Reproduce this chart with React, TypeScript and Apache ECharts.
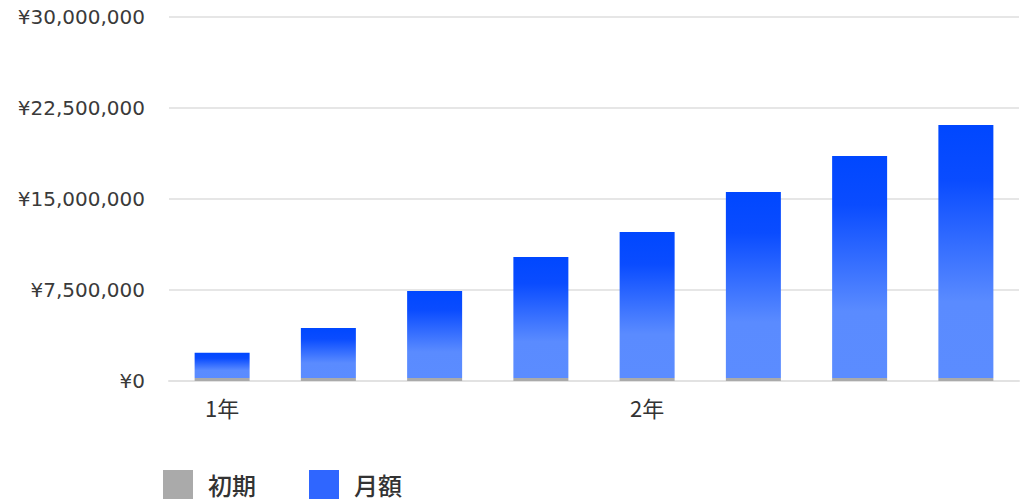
import React, { useEffect, useRef } from "react";
import * as echarts from "echarts";

const xLabels = ["1年", "", "", "", "2年", "", "", ""];
const initialCost = [250000, 250000, 250000, 250000, 250000, 250000, 250000, 250000];
const monthlyCost = [2080000, 4120000, 7170000, 9970000, 12030000, 15330000, 18290000, 20850000];
const yMax = 30000000;
const yStep = 7500000;
const legendNames = ["初期", "月額"];

export default function App() {
  const ref = useRef<HTMLDivElement>(null);
  useEffect(() => {
    document.body.style.margin = "0";
    if (!ref.current) return;
    const chart = echarts.init(ref.current, undefined, { renderer: "svg" });
    const labelFont = "'DejaVu Sans', 'Noto Sans', sans-serif";
    const cjkFont = "'Noto Sans CJK JP', 'Noto Sans', sans-serif";
    chart.setOption({
      animation: false,
      grid: { left: 169, right: 5, top: 17, bottom: 122, containLabel: false },
      legend: {
        left: 163,
        bottom: 4,
        padding: 0,
        itemWidth: 30,
        itemHeight: 29,
        itemGap: 53,
        icon: "rect",
        textStyle: { fontSize: 24, color: "#333", fontFamily: cjkFont, fontWeight: 500, padding: [0, 0, 0, 10] },
        data: [
          { name: legendNames[0], itemStyle: { color: "#aaaaaa" } },
          { name: legendNames[1], itemStyle: { color: "#2f66ff" } },
        ],
      },
      xAxis: {
        type: "category",
        data: xLabels,
        axisTick: { show: false },
        axisLine: { lineStyle: { color: "#e2e2e2", width: 2 } },
        axisLabel: { interval: 0, margin: 15, fontSize: 22, color: "#333", fontFamily: cjkFont },
      },
      yAxis: {
        type: "value",
        min: 0,
        max: yMax,
        interval: yStep,
        axisLine: { show: false },
        axisTick: { show: false },
        splitLine: { lineStyle: { color: "#e6e6e6", width: 2 } },
        axisLabel: {
          margin: 24,
          fontSize: 20,
          color: "#3a3a3a",
          fontFamily: labelFont,
          formatter: (v: number) => "¥" + v.toLocaleString("en-US"),
        },
      },
      series: [
        {
          name: legendNames[0],
          type: "bar",
          stack: "total",
          barWidth: 55,
          data: initialCost,
          itemStyle: { color: "#aaaaaa" },
        },
        {
          name: legendNames[1],
          type: "bar",
          stack: "total",
          barWidth: 55,
          data: monthlyCost,
          itemStyle: {
            color: new echarts.graphic.LinearGradient(0, 0, 0, 1, [
              { offset: 0, color: "#0047ff" },
              { offset: 0.22, color: "#0a4cff" },
              { offset: 0.7, color: "#5a8bff" },
              { offset: 1, color: "#5b8cff" },
            ]),
          },
        },
      ],
    });
    return () => chart.dispose();
  }, []);
  return <div ref={ref} style={{ width: 1024, height: 503 }} />;
}
